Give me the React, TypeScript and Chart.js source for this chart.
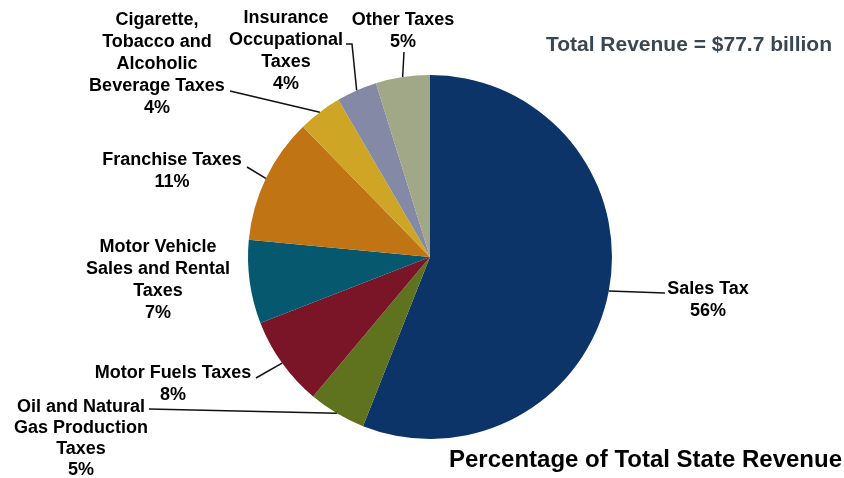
import { useEffect, useRef } from "react";
import { Chart, registerables } from "chart.js";

Chart.register(...registerables);

// revenue share by source, in percent
const categories = [
  "Sales Tax",
  "Oil and Natural\nGas Production\nTaxes",
  "Motor Fuels Taxes",
  "Motor Vehicle\nSales and Rental\nTaxes",
  "Franchise Taxes",
  "Cigarette,\nTobacco and\nAlcoholic\nBeverage Taxes",
  "Insurance\nOccupational\nTaxes",
  "Other Taxes",
];
const shares = [56, 5.1, 8.0, 7.4, 11.2, 3.9, 3.6, 4.8];
const colors = [
  "#0c3468", // navy
  "#5f721e", // olive
  "#7a1427", // maroon
  "#05586e", // teal
  "#c07414", // orange
  "#cfa526", // gold
  "#8489a6", // grey blue
  "#a0a888", // sage
];
const totalText = "Total Revenue = $77.7 billion";
const titleText = "Percentage of Total State Revenue";

// where each label block sits (centre x, first line y, line step) and its leader line start
const labelLayout = [
  { x: 708, y: 289, step: 22, leader: [[665, 293]] },
  { x: 81, y: 407, step: 21, leader: [[149, 409]] },
  { x: 173, y: 373, step: 22, leader: [[256, 378]] },
  { x: 158, y: 247, step: 22, leader: [] },
  { x: 172, y: 160, step: 22, leader: [[247, 167]] },
  { x: 157, y: 20, step: 22, leader: [[230, 91]] },
  { x: 286, y: 18, step: 22, leader: [[346, 44], [352, 44]] },
  { x: 403, y: 20, step: 22, leader: [[404, 52]] },
];

const labelPlugin = {
  id: "pieLabels",
  afterDraw(chart: any) {
    const ctx = chart.ctx;
    const meta = chart.getDatasetMeta(0);
    const data = chart.data.datasets[0].data as number[];
    const total = data.reduce((a, b) => a + b, 0);
    ctx.save();
    ctx.font = "bold 18px 'Liberation Sans', Arial, sans-serif";
    ctx.textAlign = "center";
    ctx.textBaseline = "middle";
    ctx.fillStyle = "#000";
    ctx.strokeStyle = "#111";
    ctx.lineWidth = 1.5;

    meta.data.forEach((arc: any, i: number) => {
      const layout = labelLayout[i];
      const lines = (chart.data.labels[i] as string).split("\n");
      lines.push(Math.round((data[i] / total) * 100) + "%");
      lines.forEach((line: string, j: number) => {
        ctx.fillText(line, layout.x, layout.y + j * layout.step);
      });
      if (layout.leader.length) {
        const { x, y, startAngle, endAngle, outerRadius } = arc.getProps(
          ["x", "y", "startAngle", "endAngle", "outerRadius"],
          true
        );
        const mid = (startAngle + endAngle) / 2;
        ctx.beginPath();
        layout.leader.forEach((p: number[], k: number) => {
          if (k === 0) ctx.moveTo(p[0], p[1]);
          else ctx.lineTo(p[0], p[1]);
        });
        ctx.lineTo(x + Math.cos(mid) * outerRadius, y + Math.sin(mid) * outerRadius);
        ctx.stroke();
      }
    });

    ctx.textAlign = "right";
    ctx.font = "bold 21px 'Liberation Sans', Arial, sans-serif";
    ctx.fillStyle = "#3a4650";
    ctx.fillText(totalText, 832, 45);

    ctx.font = "bold 24px 'Liberation Sans', Arial, sans-serif";
    ctx.fillStyle = "#000";
    ctx.fillText(titleText, 842, 460);
    ctx.restore();
  },
};

export default function App() {
  const chartRef = useRef<HTMLCanvasElement>(null);
  const chartInstance = useRef<Chart | null>(null);

  useEffect(() => {
    document.body.style.margin = "0";
    if (!chartRef.current) return;
    if (chartInstance.current) chartInstance.current.destroy();

    chartInstance.current = new Chart(chartRef.current, {
      type: "pie",
      data: {
        labels: categories,
        datasets: [
          {
            data: shares,
            backgroundColor: colors,
            borderWidth: 0,
          },
        ],
      },
      options: {
        animation: false,
        responsive: true,
        maintainAspectRatio: false,
        layout: { padding: { left: 248, right: 232, top: 75, bottom: 39 } },
        plugins: {
          legend: { display: false },
          tooltip: { enabled: false },
        },
      },
      plugins: [labelPlugin],
    });

    return () => {
      if (chartInstance.current) {
        chartInstance.current.destroy();
        chartInstance.current = null;
      }
    };
  }, []);

  return (
    <div style={{ position: "relative", width: 844, height: 478 }}>
      <canvas ref={chartRef} />
    </div>
  );
}
